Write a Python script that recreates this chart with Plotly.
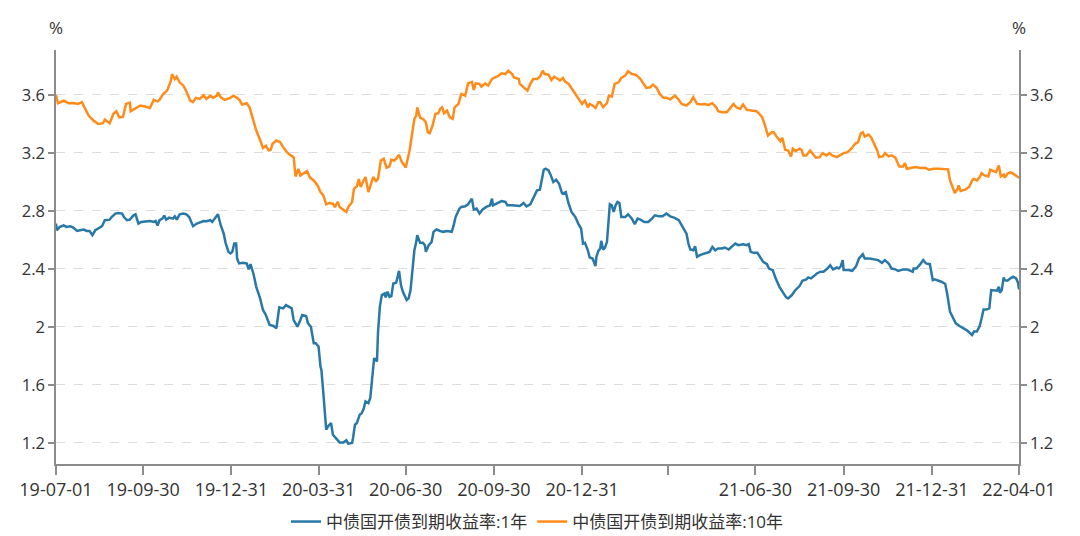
import pandas as pd
import plotly.graph_objects as go

# Days since 2019-07-01 and yields (%)
days_1y = [0, 1, 4, 8, 11, 15, 18, 22, 25, 29, 32, 35, 38, 41, 44, 48, 51, 56, 58, 62, 65, 69, 71, 74, 77, 81, 83, 86, 89, 95, 98, 102, 104, 106, 108, 111, 113, 115, 118, 122, 124, 126, 129, 133, 136, 139, 143, 147, 150, 154, 157, 161, 163, 166, 169, 172, 175, 177, 180, 182, 184, 186, 188, 189, 191, 195, 199, 201, 203, 206, 209, 213, 216, 219, 223, 227, 230, 233, 236, 237, 240, 243,
           246, 248, 252, 255, 257, 261, 263, 266, 269, 271, 274, 276, 277, 279, 281, 282, 284, 287, 289, 293, 296, 300, 303, 305, 309, 310, 312, 314, 317, 319, 321, 323, 326, 328, 330, 332, 335, 336, 338, 340, 343, 344, 346, 348, 350, 352, 355, 356, 358, 360, 362, 366, 368, 370, 372, 374, 376, 377, 380, 383, 385, 386, 389, 392, 394, 397, 401, 404, 408, 413, 415, 417, 421, 423, 427, 430, 434, 436, 439, 442, 445, 449, 453, 455, 456, 460, 465, 469, 471, 476, 481, 484, 488, 491, 495,
           500, 502, 505, 507, 509, 511, 514, 516, 519, 522, 525, 528, 529, 532, 535, 538, 542, 545, 548, 550, 552, 555, 557, 560, 563, 564, 566, 568, 569, 571, 573, 575, 578, 580, 582, 584, 586, 588, 590, 594, 597, 601, 604, 607, 610, 614, 618, 622, 625, 629, 633, 637, 641, 645, 650, 652, 655, 658, 660, 662, 665, 667, 669, 672, 677, 682, 685, 688, 691, 695, 698, 702, 705, 709, 712, 717, 721, 723, 725, 728, 732, 735, 738, 742, 744,
           748, 751, 755, 758, 762, 764, 768, 771, 776, 779, 783, 785, 788, 791, 794, 798, 801, 805, 808, 811, 815, 817, 819, 821, 822, 827, 831, 835, 838, 842, 844, 849, 855, 858, 862, 865, 869, 872, 876, 879, 884, 888, 892, 894, 895, 898, 902, 905, 908, 912, 915, 917, 921, 924, 928, 930, 933, 936, 939, 943, 947, 951, 956, 958, 961, 964, 966, 968, 971, 974, 976, 979, 982, 984, 985, 987, 989, 990, 993, 996, 999, 1002, 1004, 1005]
yield_1y = [2.713, 2.667, 2.69, 2.70, 2.69, 2.695, 2.685, 2.662, 2.667, 2.672, 2.662, 2.662, 2.633, 2.667, 2.679, 2.695, 2.736, 2.74, 2.758, 2.782, 2.786, 2.782, 2.758, 2.736, 2.74, 2.77, 2.777, 2.713, 2.724, 2.731, 2.731, 2.724, 2.731, 2.70, 2.736, 2.747, 2.768, 2.74, 2.754, 2.747, 2.763, 2.74, 2.777, 2.782, 2.777, 2.758, 2.695, 2.713, 2.722, 2.731, 2.729, 2.736, 2.724, 2.754, 2.777, 2.70, 2.644, 2.58, 2.518, 2.507, 2.518, 2.575, 2.575, 2.472, 2.438, 2.442, 2.438, 2.397, 2.433, 2.369, 2.277, 2.197, 2.117, 2.083, 2.014, 2.007, 1.991, 2.135, 2.128, 2.128, 2.151, 2.14,
            2.128, 2.048, 2.002, 2.048, 2.083, 2.076, 2.025, 2.002, 1.888, 1.888, 1.865, 1.727, 1.704, 1.544, 1.383, 1.292, 1.315, 1.338, 1.257, 1.223, 1.204, 1.204, 1.218, 1.195, 1.20, 1.234, 1.326, 1.338, 1.395, 1.406, 1.434, 1.487, 1.475, 1.51, 1.659, 1.785, 1.762, 1.957, 2.14, 2.22, 2.231, 2.204, 2.243, 2.208, 2.213, 2.30, 2.305, 2.335, 2.387, 2.289, 2.243, 2.186, 2.197, 2.254, 2.369, 2.529, 2.587, 2.633, 2.58, 2.58, 2.564, 2.518, 2.564, 2.587, 2.656, 2.672, 2.662, 2.656, 2.662, 2.656, 2.70, 2.758, 2.816, 2.828, 2.832, 2.846, 2.885, 2.809, 2.816, 2.782, 2.809, 2.828, 2.839, 2.885, 2.839, 2.85, 2.868, 2.862, 2.839, 2.839, 2.839, 2.834, 2.855, 2.832, 2.846,
            2.908, 2.942, 2.947, 3.01, 3.084, 3.091, 3.08, 3.052, 3.0, 3.015, 2.988, 2.924, 2.919, 2.93, 2.85, 2.793, 2.758, 2.713, 2.679, 2.575, 2.58, 2.529, 2.479, 2.472, 2.42, 2.484, 2.525, 2.541, 2.594, 2.534, 2.548, 2.587, 2.846, 2.839, 2.793, 2.839, 2.862, 2.855, 2.758, 2.758, 2.777, 2.747, 2.708, 2.747, 2.74, 2.724, 2.724, 2.747, 2.77, 2.763, 2.763, 2.782, 2.763, 2.754, 2.736, 2.713, 2.679, 2.644, 2.575, 2.534, 2.529, 2.557, 2.484, 2.495, 2.507, 2.518, 2.552, 2.529, 2.541, 2.541, 2.548, 2.534, 2.552, 2.575, 2.564, 2.571, 2.564, 2.571, 2.518, 2.511, 2.511, 2.484, 2.449, 2.433, 2.403,
            2.392, 2.335, 2.277, 2.243, 2.204, 2.197, 2.22, 2.25, 2.282, 2.319, 2.328, 2.342, 2.335, 2.351, 2.369, 2.381, 2.381, 2.403, 2.426, 2.397, 2.41, 2.403, 2.419, 2.461, 2.392, 2.392, 2.387, 2.419, 2.472, 2.502, 2.472, 2.472, 2.465, 2.461, 2.442, 2.461, 2.438, 2.403, 2.397, 2.387, 2.397, 2.397, 2.387, 2.381, 2.403, 2.403, 2.433, 2.461, 2.438, 2.433, 2.323, 2.328, 2.319, 2.312, 2.296, 2.231, 2.105, 2.06, 2.025, 2.007, 1.991, 1.975, 1.945, 1.968, 1.968, 2.007, 2.06, 2.121, 2.121, 2.128, 2.254, 2.254, 2.25, 2.277, 2.236, 2.254, 2.342, 2.323, 2.319, 2.335, 2.346, 2.335, 2.305, 2.259]

days_10y = [0, 2, 8, 13, 18, 23, 27, 30, 34, 39, 44, 49, 51, 56, 60, 63, 66, 70, 73, 77, 78, 82, 88, 93, 98, 102, 106, 108, 112, 116, 120, 121, 124, 126, 129, 133, 136, 140, 143, 146, 150, 154, 157, 161, 164, 168, 169, 172, 176, 182, 185, 189, 192, 194, 199, 202, 206, 209, 213, 216, 219, 222, 224, 226, 230, 234, 237, 241, 245,
            248, 250, 253, 255, 258, 262, 265, 269, 273, 276, 279, 282, 285, 289, 291, 294, 296, 300, 303, 305, 309, 311, 314, 316, 318, 321, 323, 326, 329, 331, 334, 336, 339, 342, 345, 348, 350, 353, 355, 358, 361, 365, 369, 371, 374, 376, 377, 380, 383, 386, 388, 390, 393, 396, 399, 401, 403, 405, 408, 411, 414, 416, 420, 423, 427, 430, 434, 436, 438, 442, 444, 448, 451, 455, 460, 465, 469, 472, 476, 478, 483, 484, 489, 492, 495,
            498, 502, 505, 508, 510, 514, 517, 520, 522, 526, 529, 531, 535, 538, 542, 545, 549, 552, 555, 557, 560, 563, 566, 568, 571, 575, 577, 580, 583, 587, 590, 594, 597, 601, 605, 610, 613, 616, 620, 623, 627, 630, 634, 637, 641, 646, 649, 653, 658, 662, 665, 669, 674, 677, 681, 685, 689, 691, 695, 700, 703, 707, 710, 714, 717, 721, 726, 731, 734, 737, 740, 743, 747,
            749, 752, 756, 758, 761, 764, 767, 769, 772, 776, 778, 780, 783, 787, 790, 793, 797, 800, 804, 807, 810, 815, 818, 822, 826, 830, 834, 837, 840, 842, 844, 848, 851, 855, 857, 859, 863, 865, 869, 872, 876, 878, 880, 884, 886, 888, 893, 897, 902, 907, 911, 916, 921, 926, 931, 933, 936, 938, 941, 942, 944, 949, 953, 956, 958, 961, 964, 966, 969, 973, 975, 978, 981, 984, 986, 989, 990, 993, 996, 1000, 1002, 1005]
yield_10y = [3.60, 3.543, 3.56, 3.543, 3.545, 3.538, 3.55, 3.515, 3.458, 3.424, 3.40, 3.405, 3.43, 3.405, 3.47, 3.488, 3.446, 3.45, 3.538, 3.547, 3.488, 3.504, 3.527, 3.52, 3.51, 3.566, 3.556, 3.566, 3.607, 3.63, 3.70, 3.744, 3.71, 3.726, 3.687, 3.664, 3.625, 3.561, 3.55, 3.58, 3.573, 3.598, 3.573, 3.595, 3.58, 3.595, 3.618, 3.584, 3.566, 3.58, 3.595, 3.58, 3.561, 3.534, 3.543, 3.515, 3.424, 3.355, 3.29, 3.235, 3.25, 3.217, 3.222, 3.263, 3.286, 3.274, 3.24, 3.206, 3.183,
             3.171, 3.038, 3.09, 3.045, 3.057, 3.075, 3.03, 3.01, 2.976, 2.93, 2.908, 2.846, 2.855, 2.85, 2.827, 2.862, 2.827, 2.805, 2.793, 2.827, 2.862, 2.954, 2.97, 3.02, 2.965, 3.01, 3.034, 2.93, 3.0, 3.034, 3.006, 3.02, 3.148, 3.16, 3.098, 3.107, 3.153, 3.148, 3.16, 3.187, 3.137, 3.10, 3.217, 3.309, 3.435, 3.458, 3.515, 3.442, 3.435, 3.412, 3.343, 3.336, 3.389, 3.47, 3.474, 3.504, 3.515, 3.474, 3.492, 3.446, 3.435, 3.515, 3.538, 3.607, 3.595, 3.68, 3.69, 3.634, 3.68, 3.676, 3.657, 3.68, 3.664, 3.71, 3.726, 3.749, 3.744, 3.767, 3.744, 3.72, 3.71, 3.676, 3.648, 3.63, 3.676,
             3.71, 3.71, 3.726, 3.767, 3.744, 3.74, 3.703, 3.726, 3.717, 3.70, 3.717, 3.694, 3.676, 3.648, 3.611, 3.584, 3.538, 3.561, 3.515, 3.538, 3.527, 3.51, 3.55, 3.55, 3.515, 3.543, 3.595, 3.588, 3.676, 3.687, 3.717, 3.733, 3.763, 3.744, 3.74, 3.71, 3.68, 3.648, 3.653, 3.671, 3.648, 3.607, 3.58, 3.58, 3.57, 3.595, 3.573, 3.538, 3.527, 3.55, 3.584, 3.538, 3.534, 3.538, 3.531, 3.543, 3.515, 3.488, 3.481, 3.481, 3.504, 3.538, 3.515, 3.504, 3.534, 3.497, 3.492, 3.488, 3.47, 3.446, 3.389, 3.32, 3.343,
             3.343, 3.313, 3.281, 3.304, 3.222, 3.217, 3.176, 3.229, 3.213, 3.229, 3.222, 3.183, 3.183, 3.217, 3.194, 3.167, 3.171, 3.199, 3.183, 3.199, 3.183, 3.171, 3.183, 3.199, 3.206, 3.229, 3.263, 3.274, 3.336, 3.343, 3.313, 3.327, 3.304, 3.252, 3.217, 3.171, 3.176, 3.199, 3.176, 3.183, 3.167, 3.137, 3.107, 3.107, 3.13, 3.091, 3.098, 3.103, 3.096, 3.098, 3.084, 3.091, 3.091, 3.091, 3.087, 3.01, 2.954, 2.924, 2.954, 2.976, 2.938, 2.947, 2.965, 3.01, 3.022, 3.01, 3.034, 3.061, 3.045, 3.038, 3.084, 3.075, 3.068, 3.114, 3.038, 3.052, 3.029, 3.057, 3.068, 3.052, 3.045, 3.029]

series_names = ["中债国开债到期收益率:1年", "中债国开债到期收益率:10年"]
series_colors = ["#2878A8", "#FF8C1A"]

tick_dates = ["2019-07-01", "2019-09-30", "2019-12-31", "2020-03-31", "2020-06-30", "2020-09-30",
              "2020-12-31", "2021-03-31", "2021-06-30", "2021-09-30", "2021-12-31", "2022-04-01"]
tick_labels = ["19-07-01", "19-09-30", "19-12-31", "20-03-31", "20-06-30", "20-09-30",
               "20-12-31", "", "21-06-30", "21-09-30", "21-12-31", "22-04-01"]
y_ticks = [1.2, 1.6, 2.0, 2.4, 2.8, 3.2, 3.6]
y_tick_labels = ["1.2", "1.6", "2", "2.4", "2.8", "3.2", "3.6"]
y_range = [1.055, 3.91]

start = pd.Timestamp("2019-07-01")
dates_1y = start + pd.to_timedelta(days_1y, unit="D")
dates_10y = start + pd.to_timedelta(days_10y, unit="D")

FONT = "Open Sans, Noto Sans CJK SC, sans-serif"
AXIS_COLOR = "#8c8c8c"
TEXT_COLOR = "#333333"

fig = go.Figure()
fig.add_trace(go.Scatter(x=dates_1y, y=yield_1y, mode="lines", name=series_names[0],
                         line=dict(color=series_colors[0], width=2.5)))
fig.add_trace(go.Scatter(x=dates_10y, y=yield_10y, mode="lines", name=series_names[1],
                         line=dict(color=series_colors[1], width=2.5), yaxis="y2"))

fig.update_layout(
    width=1080, height=536,
    margin=dict(l=56, r=61, t=50, b=72, autoexpand=False),
    paper_bgcolor="white", plot_bgcolor="white",
    font=dict(family=FONT, size=16, color=TEXT_COLOR),
    showlegend=True,
    legend=dict(orientation="h", x=0.5, xanchor="center",
                yref="container", y=(536 - 522) / 536, yanchor="middle",
                font=dict(size=17, color=TEXT_COLOR), itemwidth=30, tracegroupgap=0),
    xaxis=dict(type="date", range=["2019-07-01", "2022-04-01"],
               tickmode="array", tickvals=tick_dates, ticktext=tick_labels,
               ticks="outside", ticklen=9, tickcolor=AXIS_COLOR, tickwidth=1.5,
               showline=True, linecolor=AXIS_COLOR, linewidth=1.5,
               showgrid=False, zeroline=False,
               tickfont=dict(size=18, color=TEXT_COLOR)),
    yaxis=dict(range=y_range, tickmode="array", tickvals=y_ticks, ticktext=y_tick_labels,
               ticks="outside", ticklen=6, tickcolor=AXIS_COLOR, tickwidth=1.5,
               showline=True, linecolor=AXIS_COLOR, linewidth=1.5,
               showgrid=True, gridcolor="#dddddd", griddash="dash", gridwidth=1,
               zeroline=False, tickfont=dict(size=16.5, color=TEXT_COLOR)),
    yaxis2=dict(range=y_range, tickmode="array", tickvals=y_ticks, ticktext=y_tick_labels,
                overlaying="y", side="right",
                ticks="outside", ticklen=6, tickcolor=AXIS_COLOR, tickwidth=1.5,
                showline=True, linecolor=AXIS_COLOR, linewidth=1.5,
                showgrid=False, zeroline=False, tickfont=dict(size=16.5, color=TEXT_COLOR)),
    annotations=[
        dict(text="%", x=0, xref="paper", xanchor="center",
             y=(464 - 28) / 414, yref="paper", yanchor="middle",
             showarrow=False, font=dict(size=17, color=TEXT_COLOR)),
        dict(text="%", x=1, xref="paper", xanchor="center",
             y=(464 - 28) / 414, yref="paper", yanchor="middle",
             showarrow=False, font=dict(size=17, color=TEXT_COLOR)),
    ],
)

fig.write_html("out.html")
